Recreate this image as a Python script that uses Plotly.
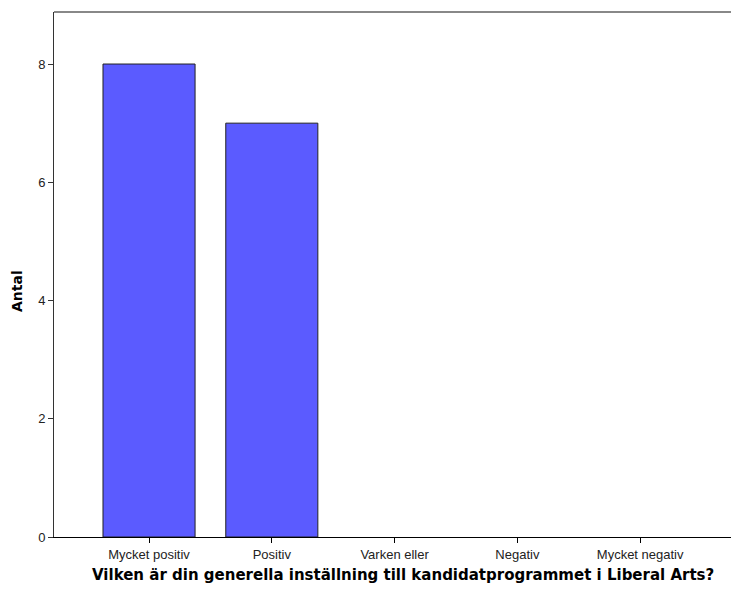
import plotly.graph_objects as go

categories = ["Mycket positiv", "Positiv", "Varken eller", "Negativ", "Mycket negativ"]
counts = [8, 7, 0, 0, 0]
y_ticks = [0, 2, 4, 6, 8]

FONT = "Liberation Sans, Arial, sans-serif"
TITLE_FONT = "DejaVu Sans, Verdana, sans-serif"

W, H = 731, 591
L, T, R, B = 54, 12, 0, 54
PW, PH = W - L - R, H - T - B

fig = go.Figure()
fig.add_trace(go.Bar(
    x=list(range(len(categories))),
    y=[c if c > 0 else None for c in counts],
    width=0.75,
    marker=dict(color="#5b5bff", line=dict(color="#222222", width=1)),
    showlegend=False,
    hoverinfo="skip",
))

fig.update_layout(
    width=W, height=H,
    margin=dict(l=L, r=R, t=T, b=B),
    paper_bgcolor="white", plot_bgcolor="white",
    font=dict(family=FONT, color="#000000"),
    bargap=0,
    xaxis=dict(
        range=[-0.774, 4.74],
        tickmode="array",
        tickvals=list(range(len(categories))),
        ticktext=categories,
        showgrid=False, zeroline=False,
        showline=True, linecolor="#000000", linewidth=1,
        ticks="outside", ticklen=5, tickcolor="#000000",
        tickfont=dict(size=13, family=FONT, color="#222222"),
    ),
    yaxis=dict(
        range=[0, 8.88],
        tickmode="array",
        tickvals=y_ticks,
        ticktext=[str(v) for v in y_ticks],
        showgrid=False, zeroline=False,
        showline=True, linecolor="#333333", linewidth=1,
        ticks="outside", ticklen=5, tickcolor="#333333",
        tickfont=dict(size=13, family=FONT, color="#222222"),
    ),
    shapes=[dict(type="line", xref="paper", yref="paper", x0=0, x1=1, y0=1, y1=1,
                 line=dict(color="#888888", width=2))],
    annotations=[
        dict(text="<b>Vilken är din generella inställning till kandidatprogrammet i Liberal Arts?</b>",
             xref="paper", yref="paper", x=(402.5 - L) / PW, y=-(575 - (T + PH)) / PH,
             xanchor="center", yanchor="middle", showarrow=False,
             font=dict(size=15, family=TITLE_FONT, color="#000000")),
        dict(text="<b>Antal</b>", textangle=-90,
             xref="paper", yref="paper", x=-(L - 17) / PW, y=(T + PH - 291) / PH,
             xanchor="center", yanchor="middle", showarrow=False,
             font=dict(size=14, family=TITLE_FONT, color="#000000")),
    ],
)

fig.write_html(
    "out.html",
    config={"displayModeBar": False, "staticPlot": True},
    post_script="document.body.style.margin='0';document.body.style.overflow='hidden';",
)
